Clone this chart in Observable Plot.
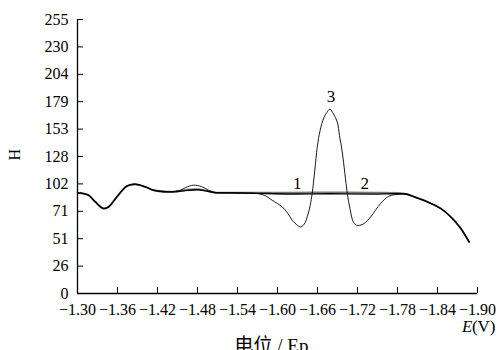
<!DOCTYPE html>
<html><head><meta charset="utf-8">
<script src="https://cdn.jsdelivr.net/npm/d3@7"></script>
<script src="https://cdn.jsdelivr.net/npm/@observablehq/plot@0.6"></script>
<style>
html,body{margin:0;padding:0;background:#fff;overflow:hidden;}
svg text{font-family:"Liberation Serif","Noto Sans CJK SC",serif !important;}
</style>
</head><body><div id="chart"></div>
<script>
// Tick values and labels
const xTicks = [-1.30, -1.36, -1.42, -1.48, -1.54, -1.60, -1.66, -1.72, -1.78, -1.84, -1.90];
const xTickLabels = ["−1.30","−1.36","−1.42","−1.48","−1.54","−1.60","−1.66","−1.72","−1.78","−1.84","−1.90"];
const yTicks = [0, 25.5, 51, 76.5, 102, 127.5, 153, 178.5, 204, 229.5, 255];
const yTickLabels = ["0","26","51","71","102","128","153","179","204","230","255"];

// Curve 1 (grey)
const e1 = [-1.300,-1.306,-1.3165,-1.3266,-1.339,-1.3466,-1.359,-1.374,-1.3867,-1.4017,-1.4142,-1.4367,-1.4517,-1.465,-1.48,-1.495,-1.505,-1.54,-1.57,-1.62,-1.68,-1.74,-1.7848,-1.794,-1.8023,-1.8249,-1.8449,-1.86,-1.875,-1.8874];
const h1 = [93.6,93.4,91.5,85.3,79.1,80.6,89.9,99.9,101.7,99.2,96.1,94.6,95.2,96.5,97.0,95.5,94.0,93.8,93.7,93.8,93.9,93.8,93.4,92.6,90.6,85.3,79.1,71.3,60.5,48.0];
// Curve 2 (black, thick)
const e2 = [-1.300,-1.306,-1.3165,-1.3266,-1.339,-1.3466,-1.359,-1.374,-1.3867,-1.4017,-1.4142,-1.4367,-1.4517,-1.465,-1.48,-1.495,-1.505,-1.54,-1.57,-1.62,-1.68,-1.74,-1.7848,-1.794,-1.8023,-1.8249,-1.8449,-1.86,-1.875,-1.8874];
const h2 = [93.6,93.4,91.5,85.3,79.1,80.6,89.9,99.9,101.7,99.2,96.1,94.6,95.0,96.0,96.5,95.2,94.0,93.6,93.2,92.6,92.8,92.5,92.8,92.4,90.6,85.3,79.1,71.3,60.5,48.0];
// Curve 3 (black, thin)
const e3 = [-1.300,-1.306,-1.3165,-1.3266,-1.339,-1.3466,-1.359,-1.374,-1.3867,-1.4017,-1.4142,-1.4367,-1.4517,-1.462,-1.474,-1.486,-1.497,-1.505,-1.54,-1.5695,-1.58,-1.592,-1.607,-1.615,-1.622,-1.63,-1.6345,-1.640,-1.6446,-1.649,-1.652,-1.656,-1.6596,-1.664,-1.6695,-1.674,-1.6786,-1.684,-1.6896,-1.693,-1.6971,-1.701,-1.7047,-1.709,-1.7135,-1.7182,-1.724,-1.7297,-1.7397,-1.7548,-1.7672,-1.7848,-1.794,-1.8023,-1.8249,-1.8449,-1.86,-1.875,-1.8874];
const h3 = [93.6,93.4,91.5,85.3,79.1,80.6,89.9,99.9,101.7,99.2,96.1,94.6,95.5,98.5,100.8,99.5,96.0,94.2,93.6,93.0,91.5,86.8,80.6,75.0,68.2,63.5,62.0,64.5,71.3,82.0,93.1,115,136,152,163.5,168.5,171.5,167,159.7,147,131.8,112,93.1,78,67,63.6,63.6,65.1,71.3,83.8,90.6,92.5,92.4,90.6,85.3,79.1,71.3,60.5,48.0];

// Curve number labels
const labelText = ["1", "2", "3"];
const labelE = [-1.6296, -1.7307, -1.6801];
const labelH = [102.5, 102.5, 183.5];

const rows = (es, hs) => es.map((e, i) => ({E: e, H: hs[i]}));
const labels = labelText.map((t, i) => ({t, E: labelE[i], H: labelH[i]}));

const chart = Plot.plot({
  width: 500,
  height: 350,
  marginLeft: 77,
  marginRight: 23,
  marginTop: 19,
  marginBottom: 57,
  style: {fontSize: "16px", color: "#000", background: "#fff"},
  x: {domain: [-1.30, -1.90], label: null},
  y: {domain: [0, 255], label: null},
  marks: [
    Plot.axisX({ticks: xTicks, tickFormat: (d, i) => xTickLabels[i], tickSize: -6, tickPadding: 16, label: null, fontSize: 16}),
    Plot.axisY({ticks: yTicks, tickFormat: (d, i) => yTickLabels[i], tickSize: -6, tickPadding: 15, label: null, fontSize: 16}),
    Plot.ruleX([-1.30], {stroke: "#000", strokeWidth: 1.3}),
    Plot.ruleY([0], {stroke: "#000", strokeWidth: 1.3}),
    Plot.line(rows(e1, h1), {x: "E", y: "H", stroke: "#777", strokeWidth: 2, curve: "catmull-rom"}),
    Plot.line(rows(e2, h2), {x: "E", y: "H", stroke: "#000", strokeWidth: 1.4, curve: "catmull-rom"}),
    Plot.line(rows(e3, h3), {x: "E", y: "H", stroke: "#000", strokeWidth: 0.9, curve: "catmull-rom"}),
    Plot.text(labels, {x: "E", y: "H", text: "t", fontSize: 17, fill: "#000"}),
    Plot.text(["H"], {frameAnchor: "left", dx: -63, dy: 4, rotate: -90, fontSize: 16, fill: "#000"}),
    Plot.text(["(V)"], {frameAnchor: "bottom-right", textAnchor: "end", dx: 18, dy: 38, fontSize: 17, fill: "#000"}),
    Plot.text(["E"], {frameAnchor: "bottom-right", textAnchor: "end", dx: -5, dy: 38, fontSize: 17, fontStyle: "italic", fill: "#000"}),
    Plot.text(["电位 / Ep"], {frameAnchor: "bottom", dx: -6, dy: 58, fontSize: 19, fill: "#000"})
  ]
});
document.getElementById("chart").appendChild(chart);
</script>
</body></html>
